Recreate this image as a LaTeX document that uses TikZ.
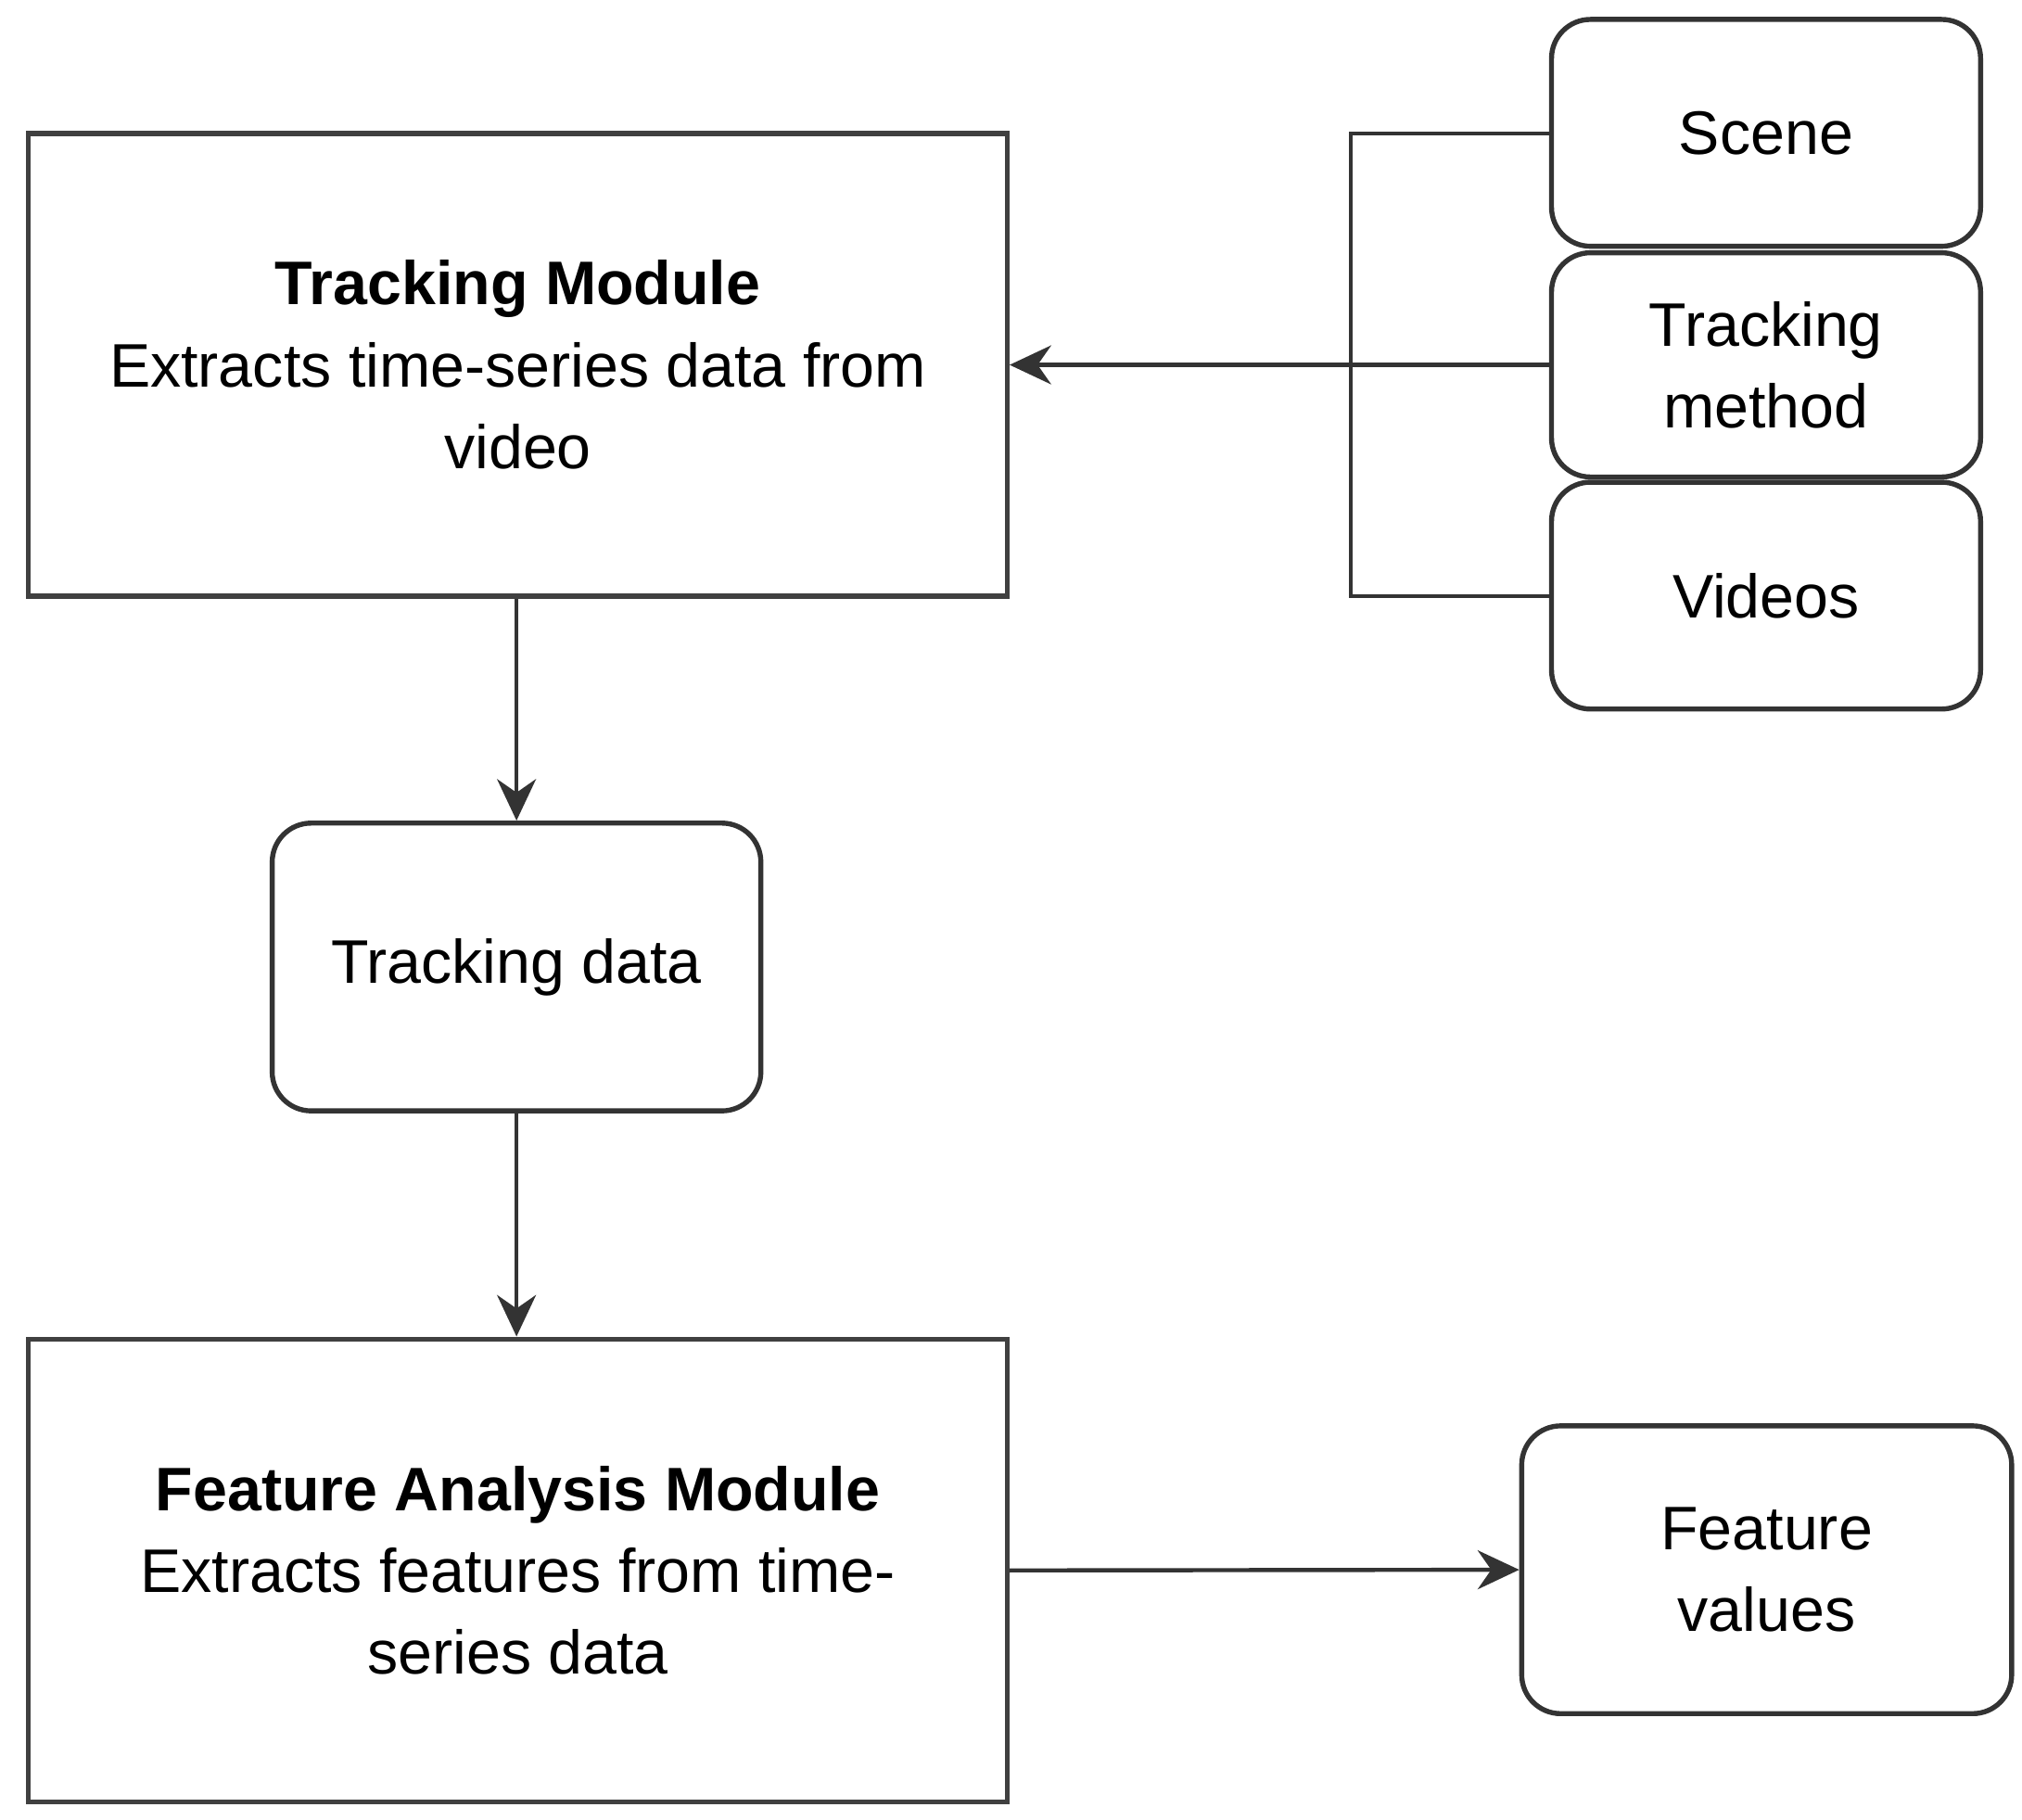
\documentclass[tikz,border=0pt]{standalone}
\usepackage{fontspec}
\setmainfont{Liberation Sans}
\usepackage{tikz}
\usetikzlibrary{arrows.meta}
\usetikzlibrary{positioning}
\tikzset{>={Stealth[length=3.2mm,width=3mm]}}

\begin{document}
\begin{tikzpicture}[
	line width=0.9pt, draw=black!80,
	module/.style = {
		rectangle, draw=black!75, line width=1.1pt,
		align=center,
		minimum width=7.55cm, minimum height=3.57cm,
		font=\fontsize{13.5}{18}\selectfont
	},
	item/.style = {
		rectangle, rounded corners=0.3cm, draw=black!80, line width=1.1pt,
		align=center,
		font=\fontsize{13.5}{18}\selectfont
	}
]
	\useasboundingbox (0, 0) rectangle (15.6, -14.04);
	% Tracking module and its inputs
	\node[module] (track) at (3.995, -2.815)
		{\textbf{Tracking Module}\\Extracts time-series data from\\video};
	\node[item, minimum width=3.31cm, minimum height=1.75cm] (scene) at (13.625, -1.025) {Scene};
	\node[item, minimum width=3.31cm, minimum height=1.73cm] (method) at (13.625, -2.815) {Tracking\\method};
	\node[item, minimum width=3.31cm, minimum height=1.75cm] (videos) at (13.625, -4.595) {Videos};
	\coordinate (join) at (10.42, -2.815);
	% Bracket
	\draw (scene.west |- 0, -1.03) -- (10.42, -1.03) -- (10.42, -4.60)
		-- (videos.west |- 0, -4.60);
	\draw[->] (method.west) -- (join) -- (track.east);
	% Data
	\node[item, minimum width=3.77cm, minimum height=2.22cm] (data) at (3.985, -7.46) {Tracking data};
	\node[module] (feat) at (3.995, -12.115)
		{\textbf{Feature Analysis Module}\\Extracts features from time-\\series data};
	\node[item, minimum width=3.78cm, minimum height=2.22cm] (values) at (13.63, -12.11) {Feature\\values};
	% Connections
	\draw[->] (track.south -| data) -- (data.north);
	\draw[->] (data.south) -- (data |- feat.north);
	\draw[->] (feat.east) -- (values.west);
\end{tikzpicture}
\end{document}
